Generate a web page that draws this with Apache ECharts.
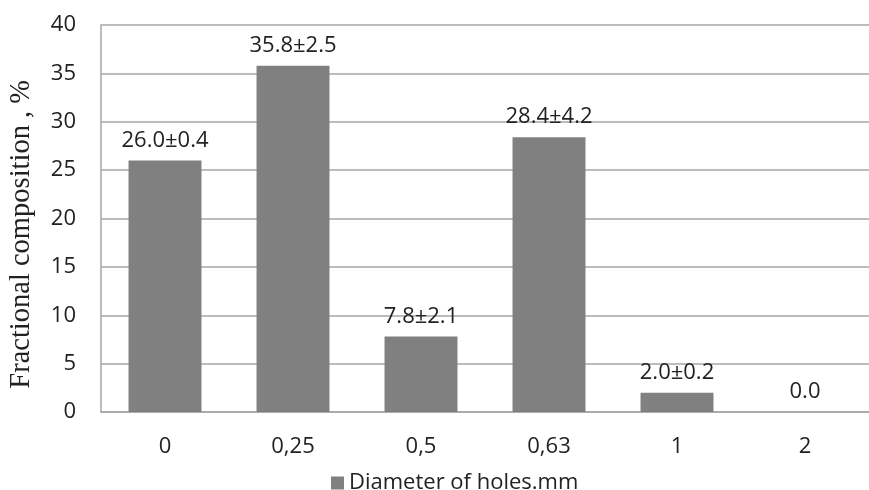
<!DOCTYPE html>
<html><head><meta charset="utf-8">
<script src="https://cdn.jsdelivr.net/npm/echarts@6/dist/echarts.min.js"></script>
<style>html,body{margin:0;padding:0;background:#fff}#c{width:869px;height:490px}</style>
</head><body><div id="c"></div>
<script>
const categories = ['0', '0,25', '0,5', '0,63', '1', '2'];
const values = [26.0, 35.8, 7.8, 28.4, 2.0, 0.0];
const valueLabels = ['26.0±0.4', '35.8±2.5', '7.8±2.1', '28.4±4.2', '2.0±0.2', '0.0'];
const yTicks = [0, 5, 10, 15, 20, 25, 30, 35, 40];
const seriesName = 'Diameter of holes.mm';
const yAxisTitle = 'Fractional composition , %';

const font = '"Open Sans", "Liberation Sans", sans-serif';
const chart = echarts.init(document.getElementById('c'), null, {renderer: 'canvas'});
chart.setOption({
  animation: false,
  grid: {left: 101, top: 25, width: 777, height: 387},
  legend: {
    top: 467, left: 326, itemWidth: 13, itemHeight: 13, itemGap: 6,
    icon: 'rect',
    textStyle: {fontFamily: font, fontSize: 22, color: '#222'},
    data: [seriesName]
  },
  xAxis: {
    type: 'category', data: categories,
    axisLine: {lineStyle: {color: '#a6a6a6', width: 1.5}},
    axisTick: {show: false},
    axisLabel: {fontFamily: font, fontSize: 22, color: '#222', margin: 24}
  },
  yAxis: {
    type: 'value', min: yTicks[0], max: yTicks[yTicks.length - 1], interval: 5,
    axisLine: {show: true, lineStyle: {color: '#a6a6a6', width: 1.5}},
    axisTick: {show: false},
    splitLine: {lineStyle: {color: '#a6a6a6', width: 1.5}},
    axisLabel: {fontFamily: font, fontSize: 22, color: '#222', margin: 25}
  },
  graphic: [{
    type: 'text', left: 7, top: 80,
    rotation: Math.PI / 2,
    style: {text: yAxisTitle, font: '28.5px "Liberation Serif", "Times New Roman", serif', fill: '#222'}
  }],
  series: [{
    name: seriesName, type: 'bar', data: values, barWidth: '57%',
    itemStyle: {color: '#808080'},
    label: {
      show: true, position: 'top', distance: 9,
      fontFamily: font, fontSize: 22, color: '#222',
      formatter: p => valueLabels[p.dataIndex]
    }
  }]
});
</script></body></html>
